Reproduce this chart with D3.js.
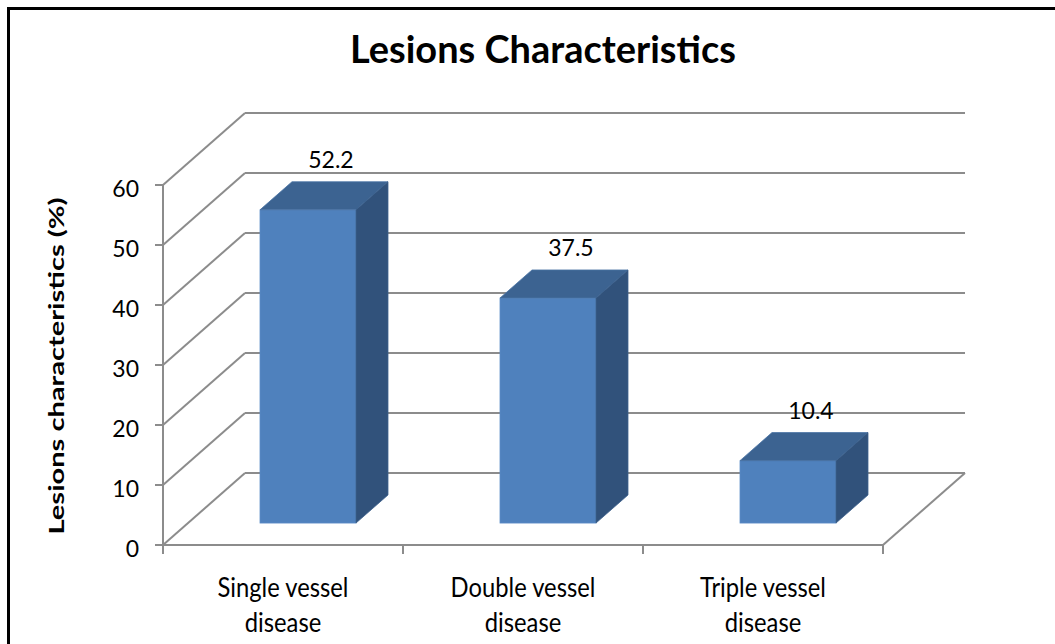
<!DOCTYPE html>
<html>
<head>
<meta charset="utf-8">
<script src="https://cdn.jsdelivr.net/npm/d3@7"></script>
<style>
  html, body { margin: 0; padding: 0; background: #fff; }
  svg { display: block; }
  text { font-family: Lato, "Open Sans", sans-serif; fill: #000; }
</style>
</head>
<body>
<div id="chart"></div>
<script>
// chart data
const categories = ['Single vessel disease', 'Double vessel disease', 'Triple vessel disease'];
const categoryLines = [['Single vessel', 'disease'], ['Double vessel', 'disease'], ['Triple vessel', 'disease']];
const values = [52.2, 37.5, 10.4];
const yTicks = [0, 10, 20, 30, 40, 50, 60];
const chartTitle = 'Lesions Characteristics';
const yTitle = 'Lesions characteristics (%)';

const W = 1055;
const H = 644;

const svg = d3.select('#chart')
  .append('svg')
  .attr('width', W)
  .attr('height', H);

// outer frame (right and bottom sides run past the picture)
svg.append('rect')
  .attr('x', 8.5)
  .attr('y', 8.5)
  .attr('width', W + 20)
  .attr('height', H + 20)
  .attr('fill', '#fff')
  .attr('stroke', '#000')
  .attr('stroke-width', 3);

// front plane of the 3D box
const x = d3.scaleBand()
  .domain(categories)
  .range([163, 883])
  .paddingInner(0.6)
  .paddingOuter(0.3);
const y = d3.scaleLinear()
  .domain([0, 60])
  .range([545, 185]);

// depth vector of the whole box, and where the bars sit inside it
const depth = { dx: 82, dy: -72 };
const barZ0 = 0.305;
const barZ1 = 0.695;
const proj = (px, py, z) => [px + z * depth.dx, py + z * depth.dy];

const gridColor = '#8c8c8c';
const grid = svg.append('g')
  .attr('stroke', gridColor)
  .attr('stroke-width', 2)
  .attr('fill', 'none');

const x0 = x.range()[0];
const x1 = x.range()[1];

// back wall gridlines
grid.selectAll('line.back')
  .data(yTicks)
  .join('line')
  .attr('class', 'back')
  .attr('x1', (d) => proj(x0, y(d), 1)[0])
  .attr('y1', (d) => proj(x0, y(d), 1)[1])
  .attr('x2', (d) => proj(x1, y(d), 1)[0])
  .attr('y2', (d) => proj(x1, y(d), 1)[1]);

// side wall gridlines
grid.selectAll('line.side')
  .data(yTicks)
  .join('line')
  .attr('class', 'side')
  .attr('x1', x0)
  .attr('y1', (d) => y(d))
  .attr('x2', (d) => proj(x0, y(d), 1)[0])
  .attr('y2', (d) => proj(x0, y(d), 1)[1]);

// floor: front edge and right edge
grid.append('line')
  .attr('x1', x0).attr('y1', y(0))
  .attr('x2', x1).attr('y2', y(0));
grid.append('line')
  .attr('x1', x1).attr('y1', y(0))
  .attr('x2', proj(x1, y(0), 1)[0]).attr('y2', proj(x1, y(0), 1)[1]);

// vertical axis line with ticks
grid.append('line')
  .attr('x1', x0).attr('y1', y(60))
  .attr('x2', x0).attr('y2', y(0));
grid.selectAll('line.ytick')
  .data(yTicks)
  .join('line')
  .attr('class', 'ytick')
  .attr('x1', x0 - 8).attr('x2', x0)
  .attr('y1', (d) => y(d)).attr('y2', (d) => y(d));

// category separators on the floor edge
const step = x.step();
const sepX = d3.range(categories.length + 1).map((i) => x0 + i * step);
grid.selectAll('line.xtick')
  .data(sepX)
  .join('line')
  .attr('class', 'xtick')
  .attr('x1', (d) => d).attr('x2', (d) => d)
  .attr('y1', y(0)).attr('y2', y(0) + 9);

// bars
const frontColor = '#4f81bd';
const topColor = '#3c6391';
const sideColor = '#31527b';
const bdx = (barZ1 - barZ0) * depth.dx;
const bdy = (barZ1 - barZ0) * depth.dy;

const bars = svg.append('g')
  .selectAll('g.bar')
  .data(values)
  .join('g')
  .attr('class', 'bar');

const barGeom = (d, i) => {
  const [fx, fyTop] = proj(x(categories[i]), y(d), barZ0);
  const fyBot = proj(0, y(0), barZ0)[1];
  return { fx, fx2: fx + x.bandwidth(), fyTop, fyBot };
};

bars.append('rect')
  .attr('x', (d, i) => barGeom(d, i).fx)
  .attr('y', (d, i) => barGeom(d, i).fyTop)
  .attr('width', x.bandwidth())
  .attr('height', (d, i) => barGeom(d, i).fyBot - barGeom(d, i).fyTop)
  .attr('fill', frontColor)
  .attr('stroke', '#5b8cc6')
  .attr('stroke-width', 0.8);

bars.append('path')
  .attr('d', (d, i) => {
    const g = barGeom(d, i);
    return `M${g.fx},${g.fyTop}L${g.fx2},${g.fyTop}L${g.fx2 + bdx},${g.fyTop + bdy}L${g.fx + bdx},${g.fyTop + bdy}Z`;
  })
  .attr('fill', topColor)
  .attr('stroke', '#4a73a5')
  .attr('stroke-width', 0.8);

bars.append('path')
  .attr('d', (d, i) => {
    const g = barGeom(d, i);
    return `M${g.fx2},${g.fyTop}L${g.fx2 + bdx},${g.fyTop + bdy}L${g.fx2 + bdx},${g.fyBot + bdy}L${g.fx2},${g.fyBot}Z`;
  })
  .attr('fill', sideColor)
  .attr('stroke', '#3b5f8c')
  .attr('stroke-width', 0.8);

// value labels above the bar tops
bars.append('text')
  .attr('x', (d, i) => barGeom(d, i).fx + x.bandwidth() / 2 + bdx / 2 + 7)
  .attr('y', (d, i) => barGeom(d, i).fyTop + bdy - 14)
  .attr('text-anchor', 'middle')
  .attr('font-size', 23)
  .text((d) => d.toFixed(1));

// y tick labels
svg.append('g')
  .selectAll('text')
  .data(yTicks)
  .join('text')
  .attr('x', x0 - 24)
  .attr('y', (d) => y(d) + 12)
  .attr('text-anchor', 'end')
  .attr('font-size', 23)
  .text((d) => d);

// category labels, two lines each, narrowed like the original
const catGroup = svg.append('g');
categoryLines.forEach((lines, i) => {
  const cx = x(categories[i]) + x.bandwidth() / 2;
  lines.forEach((line, j) => {
    const t = catGroup.append('text')
      .attr('x', cx)
      .attr('y', 597 + j * 35)
      .attr('text-anchor', 'middle')
      .attr('font-size', 27)
      .text(line);
    const natural = t.node().getComputedTextLength();
    t.attr('textLength', natural * 0.88)
      .attr('lengthAdjust', 'spacingAndGlyphs');
  });
});

// chart title
const title = svg.append('text')
  .attr('x', 543)
  .attr('y', 63)
  .attr('text-anchor', 'middle')
  .attr('font-size', 38)
  .attr('font-weight', 'bold')
  .text(chartTitle);
title.attr('textLength', 386).attr('lengthAdjust', 'spacingAndGlyphs');

// y axis title
svg.append('text')
  .attr('transform', 'translate(64,366) rotate(-90)')
  .attr('text-anchor', 'middle')
  .attr('font-size', 21)
  .attr('font-weight', 'bold')
  .attr('textLength', 337)
  .attr('lengthAdjust', 'spacingAndGlyphs')
  .text(yTitle);
</script>
</body>
</html>
